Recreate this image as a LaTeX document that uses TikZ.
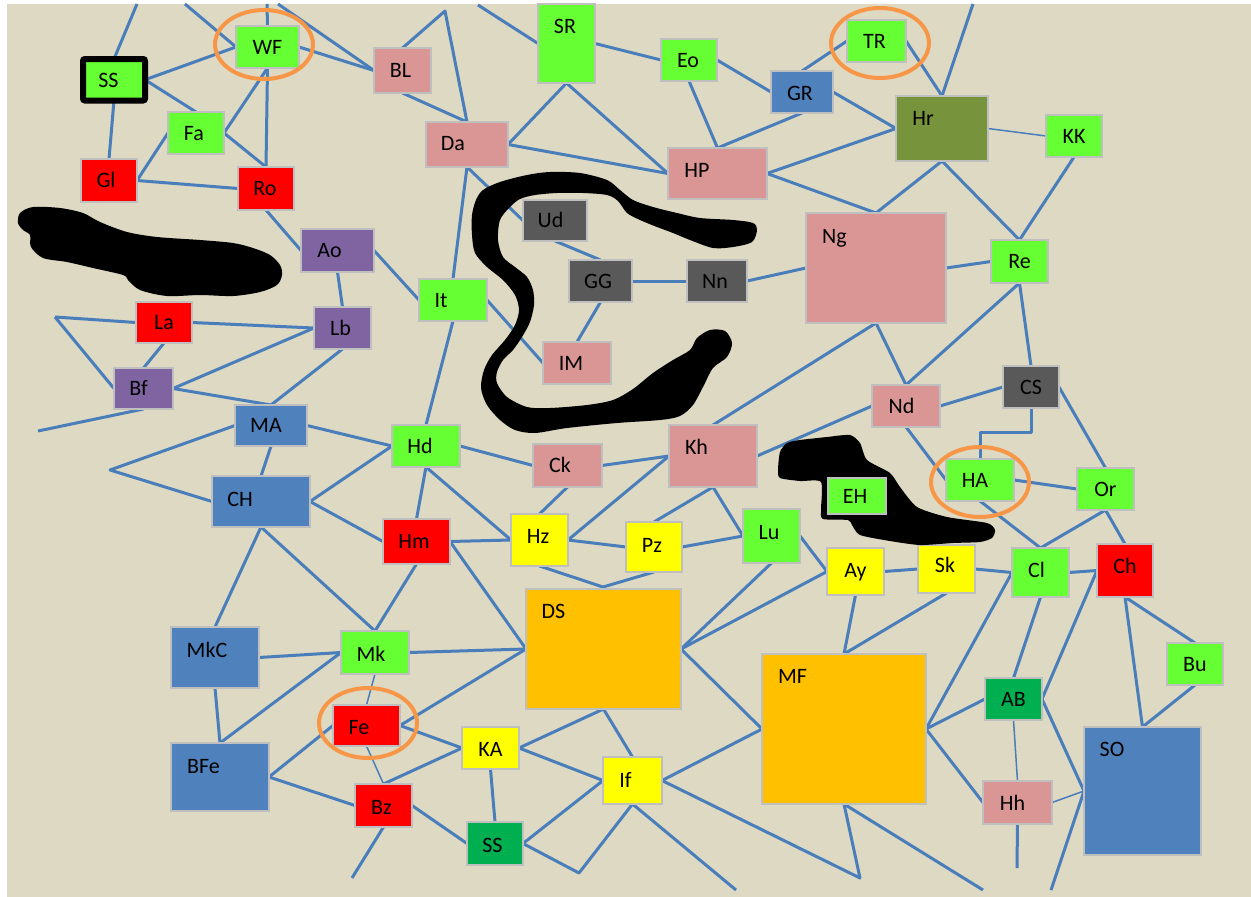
\documentclass[tikz,border=0pt]{standalone}
\usepackage{fontspec}
\setmainfont{Carlito}
\definecolor{bg}{HTML}{DDD9C3}
\definecolor{grn}{HTML}{66FF33}
\definecolor{rd}{HTML}{FF0000}
\definecolor{pnk}{HTML}{D99694}
\definecolor{prp}{HTML}{8064A2}
\definecolor{blu}{HTML}{4F81BD}
\definecolor{dgy}{HTML}{595959}
\definecolor{olv}{HTML}{77933C}
\definecolor{ylw}{HTML}{FFFF00}
\definecolor{orn}{HTML}{FFC000}
\definecolor{dgn}{HTML}{00B050}
\definecolor{linec}{HTML}{4A7EBB}
\definecolor{bordc}{HTML}{BFBFBF}
\definecolor{ringc}{HTML}{F79646}
\pgfdeclarelayer{back}
\pgfdeclarelayer{mid}
\pgfsetlayers{back,mid,main}
\tikzset{
  conn/.style={draw=linec, line width=3pt, line join=round},
  thinconn/.style={draw=linec, line width=1.5pt},
  box/.style={draw=bordc, line width=1.3pt, rectangle, inner sep=0pt, outer sep=0pt},
  lbl/.style={font=\fontsize{22}{26}\selectfont, text height=14.2pt, text depth=0pt, inner sep=0pt, anchor=center, text=black},
  ring/.style={draw=ringc, line width=4pt},
  blob/.style={fill=black}
}
\newcommand{\mkbox}[9]{\node[box,fill=#2,minimum width=#5pt,minimum height=#6pt,label={[lbl,shift={(#8,#9)}]center:#7}] (#1) at (#3,#4) {};}
\begin{document}
\begin{tikzpicture}[x=1pt,y=-1pt]
\useasboundingbox (0,0) rectangle (1251,897);
\begin{pgfonlayer}{back}
\fill[white] (0,0) rectangle (1251,897);
\fill[bg] (7,4) rectangle (1251,897);
\end{pgfonlayer}

% free points
\coordinate (t1) at (137,4);
\coordinate (t2) at (185,4);
\coordinate (t3) at (267,4);
\coordinate (t4) at (278,4);
\coordinate (t5) at (478,5);
\coordinate (t6) at (973,4);
\coordinate (v1) at (445,11);
\coordinate (v2) at (55,317);
\coordinate (v3) at (110,470);
\coordinate (v4) at (603,587);
\coordinate (v5) at (579,873);
\coordinate (v6) at (860,878);
\coordinate (e1) at (38,431);
\coordinate (e2) at (736,890);
\coordinate (e3) at (983,890);
\coordinate (e4) at (1051,890);
\coordinate (e5) at (1017,868);
\coordinate (e6) at (352,878);

% boxes
\node[box,draw=black,line width=6pt,rounded corners=2pt,fill=grn,minimum width=62pt,minimum height=41.5pt,label={[lbl,shift={(-5.5,1)}]center:SS}] (SSa) at (114,79.75) {};
\mkbox{WF}{grn}{267.5}{47}{63}{42}{WF}{0}{0}
\mkbox{BL}{pnk}{402.5}{70.5}{57}{45}{BL}{-2}{0}
\mkbox{Fa}{grn}{196}{133}{56}{42}{Fa}{-2}{0}
\mkbox{Gl}{rd}{109}{180.5}{56}{43}{Gl}{-3}{0}
\mkbox{Ro}{rd}{266}{188.5}{56}{43}{Ro}{-1}{0}
\mkbox{Ao}{prp}{337.5}{250.5}{73}{43}{Ao}{-8}{0}
\mkbox{SR}{grn}{566.5}{43.5}{57}{79}{SR}{-1.5}{-17.5}
\mkbox{Eo}{grn}{689}{60}{56}{42}{Eo}{-1}{0}
\mkbox{GR}{blu}{802}{92}{62}{42}{GR}{-2}{1}
\mkbox{TR}{grn}{876.5}{41}{59}{42}{TR}{-2}{0}
\mkbox{Hr}{olv}{942}{128.5}{92}{65}{Hr}{-19}{-10.5}
\mkbox{KK}{grn}{1074}{136}{56}{42}{KK}{0}{0}
\mkbox{Da}{pnk}{467}{144.5}{82}{45}{Da}{-14}{-1}
\mkbox{HP}{pnk}{717.5}{173.5}{99}{51}{HP}{-20.5}{-3}
\mkbox{Ud}{dgy}{555}{220.5}{64}{41}{Ud}{-4.5}{0}
\mkbox{GG}{dgy}{600.5}{281}{63}{42}{GG}{-2.5}{0}
\mkbox{Nn}{dgy}{717}{281}{60}{42}{Nn}{-2}{0}
\mkbox{Ng}{pnk}{876}{268}{140}{110}{Ng}{-41.5}{-31.5}
\mkbox{Re}{grn}{1019.5}{261.5}{57}{43}{Re}{0}{0}
\mkbox{It}{grn}{453}{300}{68}{42}{It}{-12}{0}
\mkbox{IM}{pnk}{577}{363}{68}{42}{IM}{-6}{0}
\mkbox{La}{rd}{164}{322.5}{56}{41}{La}{0}{0}
\mkbox{Lb}{prp}{342.5}{328}{57}{42}{Lb}{-2}{0}
\mkbox{Bf}{prp}{143.5}{388.5}{59}{41}{Bf}{-5}{0}
\mkbox{MA}{blu}{271}{425.5}{72}{41}{MA}{-5}{0}
\mkbox{CH}{blu}{261}{501.5}{98}{51}{CH}{-21}{-2}
\mkbox{Hd}{grn}{426}{446}{68}{42}{Hd}{-6}{0}
\mkbox{Hm}{rd}{416.5}{541.5}{67}{45}{Hm}{-2.5}{0}
\mkbox{Ck}{pnk}{567.5}{465.5}{69}{43}{Ck}{-7.5}{0}
\mkbox{Kh}{pnk}{713}{456}{88}{62}{Kh}{-16.5}{-8.5}
\mkbox{Hz}{ylw}{539.5}{540}{57}{52}{Hz}{-1.5}{-3.5}
\mkbox{Pz}{ylw}{654}{547}{56}{50}{Pz}{-2}{-2}
\mkbox{Lu}{grn}{771.5}{536}{57}{54}{Lu}{-2.5}{-4}
\mkbox{Nd}{pnk}{906}{406}{68}{42}{Nd}{-4.5}{0}
\mkbox{CS}{dgy}{1031}{387}{56}{42}{CS}{0}{0}
\mkbox{HA}{grn}{980}{480}{68}{42}{HA}{-5}{0}
\mkbox{Or}{grn}{1105.5}{489}{57}{42}{Or}{0}{0}
\mkbox{Ay}{ylw}{855.5}{571.5}{57}{47}{Ay}{0}{-1}
\mkbox{Sk}{ylw}{946.5}{569}{57}{48}{Sk}{-1.5}{-3.5}
\mkbox{Cl}{grn}{1040.5}{572.5}{57}{49}{Cl}{-4}{-2}
\mkbox{Ch}{rd}{1125}{570.5}{56}{53}{Ch}{0}{-4.5}
\mkbox{MkC}{blu}{215}{657.5}{88}{61}{MkC}{-8}{-7.5}
\mkbox{Mk}{grn}{375}{652.5}{68}{43}{Mk}{-4}{2}
\mkbox{Fe}{rd}{366.5}{725.5}{67}{41}{Fe}{-7.5}{2}
\mkbox{BFe}{blu}{220}{777}{98}{68}{BFe}{-16.5}{-11}
\mkbox{Bz}{rd}{383.5}{805.5}{57}{43}{Bz}{-2}{2}
\mkbox{DS}{orn}{603.5}{649}{155}{120}{DS}{-50}{-37.5}
\mkbox{KA}{ylw}{490.5}{748}{57}{42}{KA}{0}{1.5}
\mkbox{If}{ylw}{632.5}{780.5}{59}{47}{If}{-7}{0}
\mkbox{SSb}{dgn}{495}{843.5}{56}{43}{SS}{-2.5}{1.5}
\mkbox{MF}{orn}{844}{729}{164}{150}{MF}{-51.5}{-52.5}
\mkbox{AB}{dgn}{1013.5}{699}{57}{42}{AB}{0}{0}
\mkbox{Hh}{pnk}{1017.5}{802.5}{69}{43}{Hh}{-5}{0.5}
\mkbox{SO}{blu}{1142.5}{791}{117}{128}{SO}{-30.5}{-41.5}
\mkbox{Bu}{grn}{1195}{664}{56}{42}{Bu}{0}{0}

% connectors
\begin{pgfonlayer}{mid}
\draw[conn] (t1) -- (SSa.north);
\draw[conn] (t2) -- (WF.west);
\draw[conn] (t3) -- (WF.north);
\draw[conn] (t4) -- (BL.west);
\draw[conn] (WF.west) -- (SSa.east);
\draw[conn] (WF.east) -- (BL.west);
\draw[conn] (SSa.east) -- (Fa.north);
\draw[conn] (SSa.south) -- (Gl.north);
\draw[conn] (WF.south) -- (Fa.east);
\draw[conn] (WF.south) -- (Ro.north);
\draw[conn] (Fa.east) -- (Ro.north);
\draw[conn] (Fa.west) -- (Gl.east);
\draw[conn] (Gl.east) -- (Ro.west);
\draw[conn] (Ro.south) -- (Ao.west);
\draw[conn] (Ao.south) -- (Lb.north);
\draw[conn] (Ao.east) -- (It.west);
\draw[conn] (BL.north) -- (v1) -- (Da.north);
\draw[conn] (BL.south) -- (Da.north);
\draw[conn] (t5) -- (SR.west);
\draw[conn] (SR.east) -- (Eo.west);
\draw[conn] (Eo.east) -- (GR.west);
\draw[conn] (GR.north) -- (TR.west);
\draw[conn] (SR.south) -- (Da.east);
\draw[conn] (SR.south) -- (HP.west);
\draw[conn] (Da.east) -- (HP.west);
\draw[conn] (Eo.south) -- (HP.north);
\draw[conn] (HP.north) -- (GR.south);
\draw[conn] (HP.east) -- (Hr.west);
\draw[conn] (HP.east) -- (Ng.north);
\draw[conn] (Da.south) -- (It.north);
\draw[conn] (Da.south) -- (Ud.west);
\draw[conn] (Ud.south) -- (GG.north);
\draw[conn] (GG.east) -- (Nn.west);
\draw[conn] (Nn.east) -- (Ng.west);
\draw[conn] (GR.east) -- (Hr.west);
\draw[conn] (TR.east) -- (Hr.north);
\draw[conn] (t6) -- (Hr.north);
\draw[thinconn] (Hr.east) -- (KK.west);
\draw[conn] (Hr.south) -- (Ng.north);
\draw[conn] (Hr.south) -- (Re.north);
\draw[conn] (KK.south) -- (Re.north);
\draw[conn] (Ng.east) -- (Re.west);
\draw[conn] (Re.south) -- (CS.north);
\draw[conn] (Re.south) -- (Nd.north);
\draw[conn] (Ng.south) -- (Nd.north);
\draw[conn] (Ng.south) -- (Kh.north);
\draw[conn] (Nd.west) -- (Kh.east);
\draw[conn] (Nd.east) -- (CS.west);
\draw[conn] (Nd.south) -- (HA.west);
\draw[conn] (CS.south) -- ++(0,24) -| (HA.north);
\draw[conn] (CS.east) -- (Or.north);
\draw[conn] (HA.east) -- (Or.west);
\draw[conn] (HA.south) -- (Cl.north);
\draw[conn] (Or.south) -- (Cl.north);
\draw[conn] (Or.south) -- (Ch.north);
\draw[conn] (Ay.east) -- (Sk.west);
\draw[conn] (Sk.east) -- (Cl.west);
\draw[conn] (Cl.east) -- (Ch.west);
\draw[conn] (Ch.west) -- (AB.east);
\draw[conn] (Cl.west) -- (MF.east);
\draw[conn] (Cl.south) -- (AB.north);
\draw[conn] (Ay.south) -- (MF.north);
\draw[conn] (Sk.south) -- (MF.north);
\draw[conn] (MF.east) -- (AB.west);
\draw[conn] (MF.east) -- (Hh.west);
\draw[thinconn] (AB.south) -- (Hh.north);
\draw[conn] (AB.east) -- (SO.west);
\draw[thinconn] (Hh.east) -- (SO.west);
\draw[conn] (SO.west) -- (e4);
\draw[conn] (Hh.south) -- (e5);
\draw[conn] (Ch.south) -- (SO.north);
\draw[conn] (Ch.south) -- (Bu.north);
\draw[conn] (Bu.south) -- (SO.north);
\draw[conn] (If.east) -- (v6) -- (MF.south);
\draw[conn] (MF.south) -- (e3);
\draw[conn] (DS.west) -- (Mk.east);
\draw[conn] (Hm.east) -- (DS.west);
\draw[conn] (DS.west) -- (Fe.east);
\draw[conn] (Fe.east) -- (KA.west);
\draw[conn] (KA.west) -- (Bz.north);
\draw[conn] (Bz.east) -- (SSb.west);
\draw[conn] (KA.east) -- (DS.south);
\draw[conn] (KA.east) -- (If.west);
\draw[conn] (DS.south) -- (If.north);
\draw[conn] (KA.south) -- (SSb.north);
\draw[conn] (SSb.east) -- (If.west);
\draw[conn] (SSb.east) -- (v5) -- (If.south);
\draw[conn] (If.south) -- (e2);
\draw[conn] (If.east) -- (MF.west);
\draw[conn] (DS.east) -- (MF.west);
\draw[conn] (DS.east) -- (Lu.south);
\draw[conn] (DS.east) -- (Ay.west);
\draw[conn] (Lu.east) -- (Ay.west);
\draw[conn] (Hz.south) -- (v4) -- (Pz.south);
\draw[conn] (Hz.east) -- (Pz.west);
\draw[conn] (Hz.east) -- (Kh.west);
\draw[conn] (Ck.east) -- (Kh.west);
\draw[conn] (Ck.south) -- (Hz.north);
\draw[conn] (Hd.east) -- (Ck.west);
\draw[conn] (Hd.south) -- (Hz.west);
\draw[conn] (Hd.south) -- (Hm.north);
\draw[conn] (It.south) -- (Hd.north);
\draw[conn] (It.east) -- (IM.west);
\draw[conn] (GG.south) -- (IM.north);
\draw[conn] (Kh.south) -- (Pz.north);
\draw[conn] (Kh.south) -- (Lu.west);
\draw[conn] (Pz.east) -- (Lu.west);
\draw[conn] (Hm.east) -- (Hz.west);
\draw[conn] (Hm.south) -- (Mk.north);
\draw[conn] (v2) -- (La.west);
\draw[conn] (v2) -- (Bf.west);
\draw[conn] (La.east) -- (Lb.west);
\draw[conn] (La.south) -- (Bf.north);
\draw[conn] (Bf.east) -- (Lb.west);
\draw[conn] (Bf.east) -- (MA.north);
\draw[conn] (Lb.south) -- (MA.north);
\draw[conn] (Bf.south) -- (e1);
\draw[conn] (MA.west) -- (v3) -- (CH.west);
\draw[conn] (MA.south) -- (CH.north);
\draw[conn] (MA.east) -- (Hd.west);
\draw[conn] (CH.east) -- (Hd.west);
\draw[conn] (CH.east) -- (Hm.west);
\draw[conn] (CH.south) -- (MkC.north);
\draw[conn] (CH.south) -- (Mk.north);
\draw[conn] (MkC.east) -- (Mk.west);
\draw[conn] (MkC.south) -- (BFe.north);
\draw[conn] (BFe.north) -- (Mk.west);
\draw[thinconn] (Mk.south) -- (Fe.north);
\draw[conn] (Fe.west) -- (BFe.east);
\draw[conn] (BFe.east) -- (Bz.west);
\draw[thinconn] (Fe.south) -- (Bz.north);
\draw[conn] (Bz.south) -- (e6);
\end{pgfonlayer}

% black blobs
\fill[blob] plot[smooth cycle, tension=0.5] coordinates {
(18,223) (20,213) (33,207) (60,208) (83,213) (100,222) (127,232) (157,237) (200,240)
(233,243) (253,248) (270,255) (280,265) (282,275) (277,285) (260,292) (233,296)
(200,295) (167,296) (140,290) (128,280) (123,275) (93,268) (67,262) (43,258)
(31,247) (30,235) (23,230)};
\fill[blob] plot[smooth cycle, tension=0.5] coordinates {
(757,230) (753,223) (733,220) (700,218) (677,213) (653,207) (633,200) (620,190)
(607,180) (580,173) (550,172) (527,175) (500,182) (483,190) (476,200) (472,215)
(472,235) (475,253) (487,267) (503,280) (515,295) (519,310) (515,325) (505,340)
(492,355) (484,370) (481,388) (487,405) (500,420) (515,430) (535,433) (567,428)
(617,423) (660,420) (680,416) (693,405) (703,387) (713,368) (727,357) (732,343)
(725,331) (710,330) (697,338) (690,350) (673,360) (653,373) (633,389) (613,400)
(587,405) (550,408) (527,407) (507,397) (497,383) (497,372) (503,360) (513,350)
(522,337) (530,322) (534,305) (533,290) (527,277) (515,267) (503,257) (498,240)
(500,220) (510,207) (520,199) (535,195) (557,193) (583,193) (607,195) (618,201)
(627,213) (640,220) (657,227) (673,233) (690,240) (713,248) (733,247) (752,242)};
\fill[blob] plot[smooth cycle, tension=0.4] coordinates {
(778,470) (780,452) (787,443) (800,440) (827,437) (850,435) (860,443) (867,460)
(890,473) (900,487) (917,507) (947,517) (987,523) (995,530) (992,538) (980,542)
(953,543) (920,545) (890,541) (860,535) (852,525) (848,520) (823,519) (821,510)
(821,482) (800,481) (780,478)};

\mkbox{EH}{grn}{857}{496}{58}{36}{EH}{-2}{0}

% orange rings
\draw[ring] (264,44.5) ellipse [x radius=49, y radius=34.5];
\draw[ring] (880,43) ellipse [x radius=49, y radius=35];
\draw[ring] (980,482) ellipse [x radius=49, y radius=35];
\draw[ring] (368,723) ellipse [x radius=49, y radius=35];
\end{tikzpicture}
\end{document}
